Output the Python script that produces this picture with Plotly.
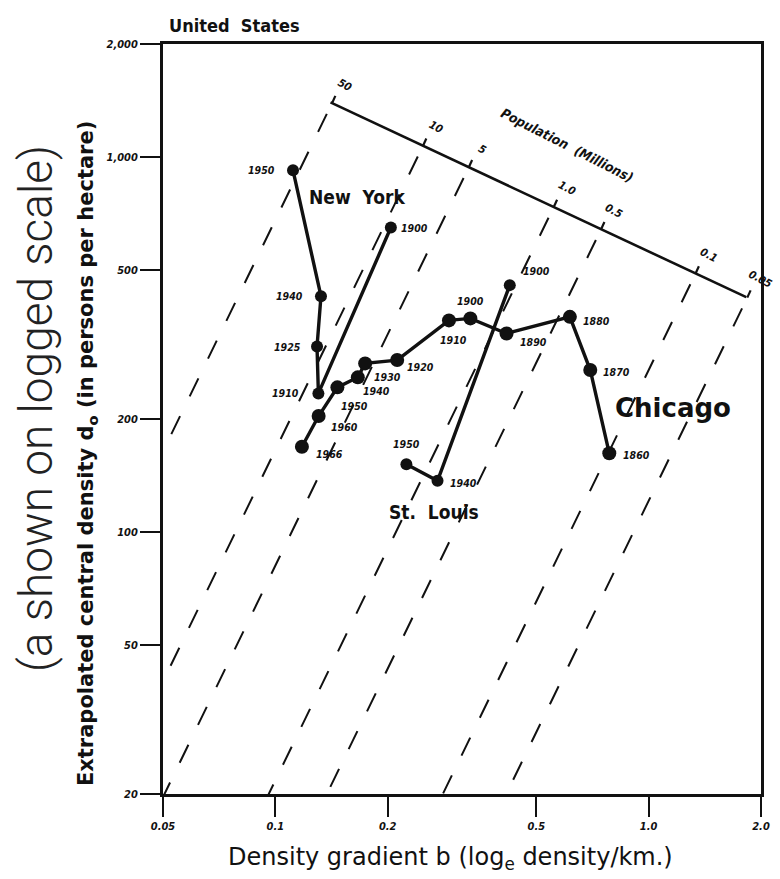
import numpy as np
import plotly.graph_objects as go

# ---- city trajectories: density gradient b (per km) vs central density d0 (persons/ha)
ny_years = ["1950", "1940", "1925", "1910", "1900"]
ny_b = [0.1115, 0.1325, 0.1293, 0.1304, 0.2039]
ny_d = [921, 425, 312, 234, 648]

chi_years = ["1966", "1960", "1950", "1940", "1930", "1920",
             "1910", "1900", "1890", "1880", "1870", "1860"]
chi_b = [0.1178, 0.1306, 0.1466, 0.1663, 0.1740, 0.2120,
         0.2918, 0.3330, 0.4162, 0.6152, 0.6977, 0.7845]
chi_d = [168.7, 203.7, 242.9, 258.3, 281.4, 287.2,
         366.4, 370.9, 338.2, 374.5, 270.1, 162.0]

stl_years = ["1950", "1940", "1900"]
stl_b = [0.2244, 0.2719, 0.4246]
stl_d = [151.5, 136.8, 455.0]

# ---- iso-population guide lines (millions), given by density at b = 1
pop_labels = ["50", "10", "5", "1.0", "0.5", "0.1", "0.05"]
pop_density_at_b1 = [76200, 18560, 9120, 2440, 1170, 270, 121]
ISO_EXP = 2.05

# ---- axis ticks
x_ticks = [0.05, 0.1, 0.2, 0.5, 1.0, 2.0]
x_ticklabels = ["0.05", "0.1", "0.2", "0.5", "1.0", "2.0"]
y_ticks = [20, 50, 100, 200, 500, 1000, 2000]
y_ticklabels = ["20", "50", "100", "200", "500", "1,000", "2,000"]

# population scale baseline (b, d0) end points
pop_axis_b = [0.1405, 1.826]
pop_axis_d = [1397, 422.6]

# ---- layout geometry
W, H = 780, 879
ML, MR, MT, MB = 163, 10, 43.5, 84.5
PW, PH = W - ML - MR, H - MT - MB
X_RANGE = [np.log10(0.05), np.log10(2.0)]
Y_RANGE = [np.log10(20), np.log10(2000)]
px_per_dec_x = PW / (X_RANGE[1] - X_RANGE[0])
px_per_dec_y = PH / (Y_RANGE[1] - Y_RANGE[0])


def paper_x(px):
    return (px - ML) / PW


def paper_y(py):
    return (H - MB - py) / PH


INK = "#111111"
NARROW = "Liberation Sans Narrow, DejaVu Sans Condensed, Arial Narrow, sans-serif"
WIDE = "DejaVu Sans, Verdana, sans-serif"

fig = go.Figure()

# population baseline in log space
lb0, lb1 = np.log10(pop_axis_b)
ld0, ld1 = np.log10(pop_axis_d)
m_axis = (ld1 - ld0) / (lb1 - lb0)
a_axis = ld0 - m_axis * lb0

# unit normal to the baseline (pointing up on screen), in pixels
dir_px = np.array([px_per_dec_x, m_axis * px_per_dec_y])
dir_px /= np.linalg.norm(dir_px)
nrm_px = np.array([-dir_px[1], dir_px[0]])
if nrm_px[1] < 0:
    nrm_px = -nrm_px

annotations = []
for lab, d1 in zip(pop_labels, pop_density_at_b1):
    k = np.log10(d1)
    lb_i = (a_axis - k) / (ISO_EXP - m_axis)
    ld_i = k + ISO_EXP * lb_i
    # dashed iso-line from just below the baseline past the lower-left frame
    lb_s = lb_i - 0.014
    lb_e = -1.6
    fig.add_trace(go.Scatter(
        x=[10 ** lb_s, 10 ** lb_e],
        y=[10 ** (k + ISO_EXP * lb_s), 10 ** (k + ISO_EXP * lb_e)],
        mode="lines", line=dict(color=INK, width=2, dash="20px,22px"),
        hoverinfo="skip", showlegend=False))
    # tick on the baseline
    tl = 8
    fig.add_trace(go.Scatter(
        x=[10 ** lb_i, 10 ** (lb_i + nrm_px[0] * tl / px_per_dec_x)],
        y=[10 ** ld_i, 10 ** (ld_i + nrm_px[1] * tl / px_per_dec_y)],
        mode="lines", line=dict(color=INK, width=2.2),
        hoverinfo="skip", showlegend=False))
    off = 20
    annotations.append(dict(
        x=lb_i, y=ld_i, xref="x", yref="y", text=lab, showarrow=False,
        xanchor="center", yanchor="middle",
        xshift=nrm_px[0] * off + 5, yshift=nrm_px[1] * off, textangle=28,
        font=dict(family=NARROW, size=11, color=INK, weight="bold", style="italic")))

fig.add_trace(go.Scatter(
    x=pop_axis_b, y=pop_axis_d, mode="lines",
    line=dict(color=INK, width=2.6), hoverinfo="skip", showlegend=False))

annotations.append(dict(
    x=np.log10(0.605), y=np.log10(1075), xref="x", yref="y",
    xanchor="center", yanchor="middle",
    text="Population  (Millions)", showarrow=False, textangle=27,
    font=dict(family=NARROW, size=13.5, color=INK, weight="bold", style="italic")))

# ---- city series
series = [
    (ny_b, ny_d, ny_years, 12,
     [(-32, 0), (-31, 0), (-30, 0), (-33, 0), (24, 0)]),
    (chi_b, chi_d, chi_years, 14,
     [(28, 7), (26, 11), (17, 19), (19, 14), (22, 14), (23, 7),
      (5, 20), (0, -17), (27, 9), (27, 4), (26, 2), (27, 2)]),
    (stl_b, stl_d, stl_years, 12,
     [(0, -20), (26, 2), (27, -14)]),
]
for bx, dy, yrs, msize, offs in series:
    fig.add_trace(go.Scatter(
        x=bx, y=dy, mode="lines+markers",
        line=dict(color=INK, width=3.4),
        marker=dict(color=INK, size=msize),
        hoverinfo="skip", showlegend=False))
    for b, d, yr, (ox, oy) in zip(bx, dy, yrs, offs):
        annotations.append(dict(
            x=np.log10(b), y=np.log10(d), xref="x", yref="y", text=yr,
            showarrow=False, xanchor="center", yanchor="middle",
            xshift=ox, yshift=-oy,
            font=dict(family=NARROW, size=10.5, color=INK, weight="bold", style="italic")))

# city names
annotations += [
    dict(x=np.log10(0.1656), y=np.log10(780), xref="x", yref="y", text="New  York",
         showarrow=False, xanchor="center", yanchor="middle",
         font=dict(family=NARROW, size=19, color=INK, weight="bold")),
    dict(x=np.log10(0.266), y=np.log10(113), xref="x", yref="y", text="St.  Louis",
         showarrow=False, xanchor="center", yanchor="middle",
         font=dict(family=NARROW, size=19, color=INK, weight="bold")),
    dict(x=np.log10(1.16), y=np.log10(214), xref="x", yref="y", text="Chicago",
         showarrow=False, xanchor="center", yanchor="middle",
         font=dict(family=WIDE, size=26, color=INK, weight="bold")),
]

# titles
annotations += [
    dict(x=paper_x(167), y=paper_y(25), xref="paper", yref="paper",
         xanchor="left", yanchor="middle", text="United  States", showarrow=False,
         font=dict(family=NARROW, size=18, color=INK, weight="bold")),
    dict(x=paper_x(86), y=paper_y(454), xref="paper", yref="paper",
         xanchor="center", yanchor="middle", textangle=-90, showarrow=False,
         text="Extrapolated central density d<sub>o</sub> (in persons per hectare)",
         font=dict(family=WIDE, size=21, color=INK, weight="bold")),
    dict(x=paper_x(34), y=paper_y(408), xref="paper", yref="paper",
         xanchor="center", yanchor="middle", textangle=-90, showarrow=False,
         text="(a shown on logged scale)",
         font=dict(family="Roboto, Open Sans, sans-serif", size=46, color="#222222", weight=300)),
    dict(x=paper_x(455), y=paper_y(859), xref="paper", yref="paper",
         xanchor="center", yanchor="middle", showarrow=False,
         text="Density gradient b (log<sub>e</sub> density/km.)",
         font=dict(family=WIDE, size=24, color=INK)),
]

tickfont = dict(family=NARROW, size=11, color=INK, weight="bold", style="italic")
fig.update_layout(
    width=W, height=H,
    margin=dict(l=ML, r=MR, t=MT, b=MB),
    paper_bgcolor="white", plot_bgcolor="white",
    showlegend=False,
    annotations=annotations,
    xaxis=dict(type="log", range=X_RANGE, tickvals=x_ticks, ticktext=x_ticklabels,
               ticks="outside", ticklen=20, tickwidth=2.4, tickcolor=INK,
               showline=True, linewidth=2.8, linecolor=INK, mirror=True,
               showgrid=False, zeroline=False, tickfont=tickfont),
    yaxis=dict(type="log", range=Y_RANGE, tickvals=y_ticks, ticktext=y_ticklabels,
               ticks="outside", ticklen=20, tickwidth=2.4, tickcolor=INK,
               showline=True, linewidth=2.8, linecolor=INK, mirror=True,
               showgrid=False, zeroline=False, tickfont=tickfont),
)

fig.write_html("out.html")
